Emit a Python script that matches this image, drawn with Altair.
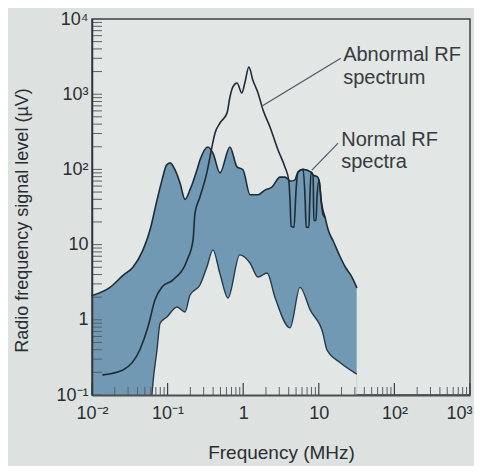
import altair as alt
import pandas as pd

# ---- Normal RF spectra: upper envelope (frequency in MHz, level in µV)
U_FREQ = [0.01, 0.0173, 0.0257, 0.0348, 0.0473, 0.0585, 0.0724, 0.0843, 0.097, 0.108,
          0.125, 0.146, 0.17, 0.2, 0.245, 0.268, 0.342, 0.398, 0.493, 0.668,
          0.828, 0.993, 1.23, 1.57, 1.94, 2.4, 3.07, 3.56, 4.2, 4.8,
          5.3, 6.2, 7.9, 8.4, 9.5, 10.07, 10.9, 12.1, 13.5, 15.6,
          19, 22.5, 27, 31.7]
U_LEVEL = [2.1, 2.7, 3.9, 5.0, 8.5, 15.6, 39, 72, 114, 122,
           99, 66, 40, 55, 99, 133, 199, 165, 90, 199,
           108, 99, 46, 46, 53, 58, 79, 79, 70, 72,
           92, 100, 92, 84, 80, 72, 35, 23, 15, 11,
           7, 5, 3.8, 2.7]

# ---- Normal RF spectra: lower envelope
L_FREQ = [0.01, 0.062, 0.064, 0.0724, 0.0795, 0.098, 0.133, 0.17, 0.198, 0.268,
          0.33, 0.398, 0.49, 0.63, 0.9, 1.23, 1.57, 2.07, 2.63, 4.16,
          5.64, 7.7, 11.3, 12.8, 19.1, 31.7]
L_LEVEL = [0.1, 0.1, 0.145, 0.4, 0.9, 1.09, 1.48, 1.27, 2.14, 2.9,
           5.0, 8.5, 4.2, 1.95, 7.3, 5.7, 3.7, 4.2, 2.0, 0.78,
           2.7, 1.35, 0.67, 0.4, 0.27, 0.19]

# ---- Abnormal RF spectrum
A_FREQ = [0.014, 0.0257, 0.043, 0.055, 0.068, 0.0843, 0.118, 0.181, 0.217, 0.23,
          0.268, 0.33, 0.386, 0.424, 0.493, 0.61, 0.668, 0.73, 0.828, 0.96,
          1.05, 1.19, 1.34, 1.57, 1.83, 2.26, 2.89, 3.56, 4.0, 4.16,
          4.3, 4.7, 5.0, 5.3, 6.2, 6.6, 6.8, 7.4, 7.6, 7.9,
          8.4, 8.6, 9.2, 9.5, 10.1, 10.7, 11.4, 12.1]
A_LEVEL = [0.185, 0.215, 0.4, 0.8, 1.83, 2.73, 3.4, 6.2, 11.5, 26,
           43, 90, 199, 305, 414, 560, 918, 1247, 1410, 1040,
           1410, 2300, 1545, 1040, 616, 366, 181, 108, 72, 39,
           17.5, 17, 53, 92, 100, 39, 17, 17, 39, 92,
           84, 21, 21, 46, 72, 39, 25, 23]

# ---- Annotations
NOTE_TEXT = ["Abnormal RF", "spectrum", "Normal RF", "spectra"]
NOTE_FREQ = [21.0, 21.0, 19.8, 19.8]
NOTE_LEVEL = [3320, 1640, 246, 125]
LEADER_FREQ = [1.8, 8.1]
LEADER_LEVEL = [700, 98]
LEADER_FREQ2 = [19.5, 18.0]
LEADER_LEVEL2 = [3000, 224]

# ---- Axes
X_DECADES = [0.01, 0.1, 1, 10, 100, 1000]
X_LABELS = ["10⁻²", "10⁻¹", "1", "10", "10²", "10³"]
Y_DECADES = [0.1, 1, 10, 100, 1000, 10000]
Y_LABELS = ["10⁻¹", "1", "10", "10²", "10³", "10⁴"]
X_MINOR = [k * 10.0 ** d for d in range(-2, 3) for k in range(2, 10)]
Y_TICKS = [k * 10.0 ** d for d in range(-1, 4) for k in range(1, 10)] + [10000]

W, H = 378, 376
FONT = "Liberation Sans"
INK = "#1f2c36"
BAND = "#7199b3"
VIEW_BG = "#e2e6e5"
PAGE_BG = "#dde1e0"
Y_MIN = 0.1


def js_list(items):
    return "[" + ",".join("'" + s + "'" for s in items) + "]"


x_axis = alt.Axis(
    values=X_DECADES,
    labelExpr=js_list(X_LABELS) + "[round(log(datum.value)/LN10)+2]",
    ticks=False, grid=False, domain=True, domainColor="#4a4f52", domainWidth=2,
    labelFontSize=18, labelColor="#2a2e31", labelPadding=9, labelFlush=False,
    labelOverlap=False, zindex=1,
    labelOffset={"condition": {"test": "datum.value > 500", "value": -11}, "value": 0},
    title="Frequency (MHz)", titleFontSize=19, titleFontWeight="normal",
    titleColor="#2a2e31", titleX=189, titleY=57, titleBaseline="middle",
)
y_axis = alt.Axis(
    values=Y_DECADES,
    labelExpr=js_list(Y_LABELS) + "[round(log(datum.value)/LN10)+1]",
    ticks=False, grid=False, domain=True, domainColor="#2f3438", domainWidth=1.5,
    labelFontSize=18, labelColor="#2a2e31", labelPadding=4, labelFlush=False,
    labelOverlap=False, zindex=1,
    title="Radio frequency signal level (µV)", titleFontSize=18,
    titleFontWeight="normal", titleColor="#2a2e31", titleX=-70, titleY=201,
    titleAngle=-90, titleBaseline="middle", titleAlign="center",
)
xs = alt.Scale(type="log", domain=[0.01, 1000], nice=False)
ys = alt.Scale(type="log", domain=[Y_MIN, 10000], nice=False)


def X(field="f"):
    return alt.X(f"{field}:Q", scale=xs, axis=x_axis)


def Y(field="v"):
    return alt.Y(f"{field}:Q", scale=ys, axis=y_axis, stack=None)


upper = pd.DataFrame({"f": U_FREQ, "v": U_LEVEL})
lower = pd.DataFrame({"f": L_FREQ, "v": L_LEVEL})
lower_line = lower.iloc[1:]
abn = pd.DataFrame({"f": A_FREQ, "v": A_LEVEL})
notes = pd.DataFrame({"f": NOTE_FREQ, "v": NOTE_LEVEL, "t": NOTE_TEXT})
leaders = pd.DataFrame({"f": LEADER_FREQ, "v": LEADER_LEVEL,
                        "f2": LEADER_FREQ2, "v2": LEADER_LEVEL2})
yt = pd.DataFrame({"v": Y_TICKS})
xmin = pd.DataFrame({"f": X_MINOR})
xmaj = pd.DataFrame({"f": X_DECADES})

CURVE = "monotone"

# band: fill under the upper envelope, then mask under the lower envelope
band_top = alt.Chart(upper).mark_area(color=BAND, interpolate=CURVE).encode(
    x=X(), y=Y(), y2=alt.datum(Y_MIN))
band_mask = alt.Chart(lower).mark_area(color=VIEW_BG, interpolate=CURVE).encode(
    x=X(), y=Y(), y2=alt.datum(Y_MIN))

line_style = dict(color=INK, strokeWidth=1.6, strokeJoin="round", strokeCap="round",
                  interpolate=CURVE)
l_upper = alt.Chart(upper).mark_line(**line_style).encode(x=X(), y=Y())
l_lower = alt.Chart(lower_line).mark_line(color="#263a4a", strokeWidth=1.4,
                                          strokeJoin="round", interpolate=CURVE
                                          ).encode(x=X(), y=Y())
l_abn = alt.Chart(abn).mark_line(**line_style).encode(x=X(), y=Y())

lead = alt.Chart(leaders).mark_rule(color="#4b5a66", strokeWidth=1.2).encode(
    x=X(), y=Y(), x2="f2:Q", y2="v2:Q")
text = alt.Chart(notes).mark_text(
    align="left", baseline="middle", font=FONT, fontSize=20, color="#363b40"
).encode(x=X(), y=Y(), text="t:N")

ytick = alt.Chart(yt).mark_rule(color="#5a6064", strokeWidth=1).encode(
    y=Y(), x=alt.value(0), x2=alt.value(10))
xtick_min = alt.Chart(xmin).mark_rule(color="#5a6064", strokeWidth=1).encode(
    x=X(), y=alt.value(H), y2=alt.value(H - 8))
xtick_maj = alt.Chart(xmaj).mark_rule(color="#3a3f42", strokeWidth=1.2).encode(
    x=X(), y=alt.value(H), y2=alt.value(H - 12))

chart = alt.layer(
    band_top, band_mask, l_lower, l_upper, l_abn, lead, text,
    ytick, xtick_min, xtick_maj
).properties(
    width=W, height=H,
    autosize=alt.AutoSizeParams(type="none"),
    padding={"left": 84, "top": 11, "right": 4, "bottom": 71},
    background=PAGE_BG,
).configure(font=FONT).configure_view(
    stroke="#3b4044", strokeWidth=1.5, fill=VIEW_BG
)

chart.save("out.html", embed_options={"renderer": "svg", "actions": False})
